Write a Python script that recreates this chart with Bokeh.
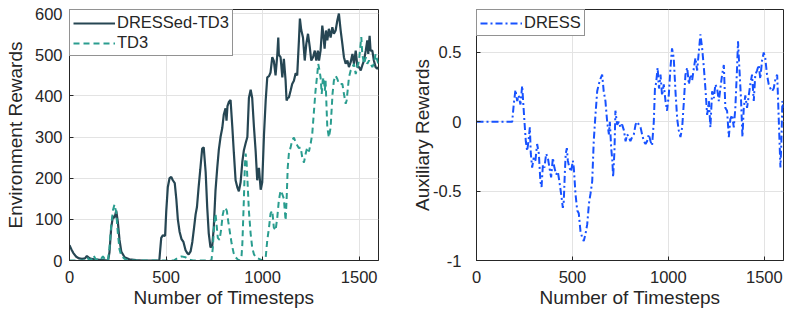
from bokeh.plotting import figure
from bokeh.layouts import row
from bokeh.models import FixedTicker, Legend, LegendItem, Range1d
from bokeh.embed import file_html
from bokeh.resources import INLINE

# ---------------- data ----------------
dressed_t = [0, 10, 20, 35, 50, 65, 80, 90, 100, 112, 130, 150, 175, 200, 207, 216, 225, 233, 242, 250,
             259, 268, 285, 310, 345, 380, 465, 475, 483, 495, 501, 509, 518, 527, 535, 545, 553, 561, 570, 580,
             590, 601, 610, 617, 627, 636, 645, 653, 660, 668, 677, 687, 695, 705, 713, 721, 730, 739, 747, 756,
             765, 773, 782, 791, 799, 808, 813, 818, 825, 834, 843, 851, 860, 869, 877, 886, 895, 903, 912, 921,
             929, 938, 946, 955, 964, 972, 977, 981, 990, 998, 1007, 1016, 1024, 1033, 1041, 1050, 1058, 1067, 1076, 1081,
             1084, 1093, 1102, 1110, 1119, 1124, 1130, 1136, 1145, 1153, 1162, 1171, 1179, 1188, 1193, 1200, 1209, 1218, 1226, 1235,
             1244, 1252, 1261, 1270, 1278, 1286, 1292, 1300, 1309, 1314, 1321, 1328, 1335, 1343, 1352, 1361, 1369, 1378, 1387, 1395,
             1404, 1413, 1421, 1430, 1439, 1447, 1456, 1465, 1473, 1482, 1491, 1499, 1508, 1516, 1525, 1534, 1542, 1547, 1554, 1559,
             1568, 1576, 1585, 1594, 1600]
dressed_r = [37, 27, 18, 9, 5, 4, 5, 11, 7, 4, 3, 2, 1, 0, 20, 80, 108, 103, 121, 95,
             50, 22, 8, 3, 1, 0, 0, 55, 61, 60, 120, 178, 200, 203, 195, 188, 150, 100, 70, 52,
             45, 25, 18, 15, 22, 45, 80, 112, 130, 175, 220, 272, 275, 215, 130, 66, 32, 35, 80, 170,
             225, 268, 300, 322, 355, 370, 340, 375, 385, 390, 325, 262, 195, 178, 168, 190, 240, 268, 285, 300,
             395, 415, 395, 325, 265, 195, 215, 225, 172, 190, 305, 390, 445, 448, 457, 494, 485, 450, 500, 542,
             500, 494, 445, 490, 437, 389, 395, 396, 413, 429, 437, 455, 450, 535, 588, 560, 542, 486, 526, 551,
             519, 486, 494, 510, 486, 510, 486, 510, 571, 551, 515, 559, 535, 563, 542, 567, 551, 559, 584, 600,
             559, 526, 494, 478, 486, 470, 482, 502, 478, 510, 470, 470, 462, 474, 486, 510, 535, 502, 546, 510,
             510, 486, 470, 466, 470]

td3_t = [0, 80, 92, 100, 115, 125, 135, 160, 173, 185, 199, 207, 216, 225, 233, 242, 250, 259, 268, 285,
         300, 330, 540, 560, 580, 600, 615, 627, 640, 735, 742, 748, 756, 761, 768, 777, 785, 793, 800, 808,
         815, 822, 830, 840, 850, 860, 872, 882, 890, 895, 903, 908, 912, 917, 921, 929, 938, 946, 955, 964,
         981, 998, 1008, 1016, 1024, 1033, 1041, 1050, 1058, 1067, 1076, 1084, 1093, 1102, 1110, 1119, 1124, 1130, 1136, 1145,
         1153, 1162, 1171, 1179, 1188, 1197, 1205, 1214, 1223, 1231, 1240, 1249, 1257, 1266, 1274, 1283, 1288, 1295, 1300, 1306,
         1311, 1317, 1322, 1326, 1331, 1335, 1343, 1352, 1357, 1362, 1369, 1378, 1387, 1395, 1404, 1413, 1421, 1430, 1435, 1442,
         1447, 1456, 1465, 1473, 1482, 1491, 1499, 1504, 1511, 1516, 1525, 1534, 1542, 1551, 1559, 1568, 1576, 1585, 1594, 1600]
td3_r = [0, 0, 8, 2, 3, 12, 3, 1, 10, 2, 0, 30, 85, 122, 136, 117, 68, 27, 12, 4,
         1, 0, 0, 6, 10, 8, 4, 1, 0, 0, 30, 80, 114, 90, 55, 50, 75, 110, 125, 128,
         120, 95, 70, 40, 18, 8, 2, 0, 5, 40, 150, 230, 260, 240, 200, 120, 65, 32, 15, 8,
         4, 0, 2, 8, 49, 80, 114, 121, 80, 73, 105, 146, 170, 161, 150, 97, 146, 226, 260, 275,
         292, 299, 287, 280, 273, 275, 251, 238, 260, 275, 265, 285, 308, 364, 413, 453, 478, 461, 445, 405,
         437, 445, 413, 437, 372, 323, 299, 323, 364, 405, 437, 449, 441, 429, 429, 429, 405, 381, 389, 421,
         445, 462, 470, 478, 453, 470, 486, 510, 543, 502, 478, 494, 478, 486, 478, 470, 478, 502, 486, 478]

dress_t = [0, 186, 194, 203, 212, 220, 229, 238, 243, 250, 257, 264, 271, 278, 283, 290, 298, 307, 316, 325,
           333, 339, 346, 354, 363, 372, 380, 389, 398, 406, 415, 424, 432, 441, 450, 455, 460, 465, 471, 476,
           484, 493, 502, 507, 516, 525, 533, 542, 550, 559, 568, 577, 586, 594, 603, 611, 620, 629, 637, 646,
           655, 663, 672, 681, 690, 695, 702, 708, 712, 719, 724, 733, 742, 750, 759, 768, 777, 785, 794, 802,
           811, 820, 829, 837, 846, 855, 863, 872, 881, 889, 898, 907, 915, 924, 930, 936, 944, 951, 959, 967,
           976, 985, 993, 1002, 1011, 1019, 1028, 1037, 1046, 1054, 1063, 1072, 1081, 1089, 1098, 1107, 1115, 1124, 1133, 1141,
           1150, 1159, 1167, 1176, 1185, 1193, 1202, 1211, 1219, 1228, 1237, 1245, 1254, 1263, 1271, 1280, 1289, 1297, 1306, 1315,
           1323, 1332, 1341, 1349, 1358, 1363, 1370, 1379, 1386, 1393, 1401, 1410, 1419, 1427, 1436, 1445, 1453, 1462, 1471, 1479,
           1488, 1497, 1505, 1514, 1523, 1532, 1540, 1549, 1558, 1567, 1572, 1578, 1584, 1589, 1594, 1600]
dress_r = [0, 0, 0.125, 0.23, 0.15, 0.19, 0.125, 0.26, 0.15, 0.0, -0.14, -0.21, -0.14, -0.04, -0.23, -0.33, -0.26, -0.28, -0.16, -0.23,
           -0.43, -0.47, -0.31, -0.33, -0.23, -0.26, -0.33, -0.40, -0.26, -0.33, -0.38, -0.36, -0.43, -0.52, -0.62, -0.57, -0.38, -0.23, -0.19, -0.28,
           -0.33, -0.36, -0.28, -0.33, -0.52, -0.64, -0.66, -0.79, -0.83, -0.86, -0.81, -0.74, -0.59, -0.52, -0.43, -0.14, 0.05, 0.22, 0.27, 0.31,
           0.34, 0.22, 0.15, 0.0, -0.09, 0.0, -0.19, -0.28, -0.40, -0.21, 0.08, -0.02, 0.0, -0.04, -0.02, -0.06, -0.14, -0.09, -0.11, -0.14,
           -0.11, -0.09, -0.02, 0.0, -0.02, -0.04, -0.09, -0.14, -0.16, -0.14, -0.09, -0.14, -0.17, 0.0, 0.24, 0.28, 0.39, 0.24, 0.34, 0.19,
           0.27, 0.15, 0.08, 0.19, 0.39, 0.53, 0.46, 0.22, 0.02, -0.06, -0.11, -0.04, 0.15, 0.34, 0.39, 0.27, 0.34, 0.30, 0.39, 0.46,
           0.37, 0.51, 0.63, 0.53, 0.39, 0.24, 0.05, 0.15, -0.04, 0.22, 0.17, 0.27, 0.24, 0.15, 0.24, 0.34, 0.41, 0.10, 0.08, -0.11,
           0.02, 0.05, -0.04, 0.10, 0.39, 0.58, 0.39, 0.15, -0.11, 0.10, 0.19, 0.10, 0.19, 0.27, 0.34, 0.15, 0.34, 0.37, 0.41, 0.31,
           0.44, 0.50, 0.46, 0.34, 0.27, 0.24, 0.22, 0.24, 0.31, 0.34, 0.15, -0.09, -0.33, -0.14, 0.15, 0.10]

x_ticks = [0, 500, 1000, 1500]
env_ticks = [0, 100, 200, 300, 400, 500, 600]
aux_ticks = [-1, -0.5, 0, 0.5]
aux_labels = {-1: "-1", -0.5: "-0.5", 0: "0", 0.5: "0.5"}

FONT = "Liberation Sans"
INK = "#262626"
GRID = "#e3e3e3"


def style(p, yticks, ystand, lstand):
    p.xaxis.ticker = FixedTicker(ticks=x_ticks)
    p.yaxis.ticker = FixedTicker(ticks=yticks)
    for ax in p.xaxis + p.yaxis:
        ax.axis_line_color = INK
        ax.major_tick_line_color = INK
        ax.major_tick_in = 4
        ax.major_tick_out = 0
        ax.minor_tick_line_color = None
        ax.major_label_text_font = FONT
        ax.major_label_text_font_size = "16.5px"
        ax.major_label_text_color = INK
        ax.axis_label_text_font = FONT
        ax.axis_label_text_font_size = "19px"
        ax.axis_label_text_font_style = "normal"
        ax.axis_label_text_color = INK
    p.xaxis.major_label_standoff = 10
    p.xaxis.axis_label_standoff = 1
    p.yaxis.major_label_standoff = ystand
    p.yaxis.axis_label_standoff = lstand
    p.xgrid.ticker = FixedTicker(ticks=x_ticks)
    p.ygrid.ticker = FixedTicker(ticks=yticks)
    p.xgrid.grid_line_color = GRID
    p.ygrid.grid_line_color = GRID
    p.outline_line_color = INK
    p.outline_line_alpha = 1


# ---------------- left panel ----------------
p1 = figure(width=400, height=310, x_range=Range1d(0, 1600), y_range=Range1d(0, 610),
            output_backend="svg", toolbar_location=None,
            min_border_left=69, min_border_right=22, min_border_top=9, min_border_bottom=50,
            x_axis_label="Number of Timesteps", y_axis_label="Environment Rewards")
style(p1, env_ticks, 7, 6)
r_dressed = p1.line(dressed_t, dressed_r, line_color="#264653", line_width=2.2)
r_td3 = p1.line(td3_t, td3_r, line_color="#2a9d8f", line_width=2, line_dash="6 4")
leg1 = Legend(items=[LegendItem(label="DRESSed-TD3", renderers=[r_dressed]),
                     LegendItem(label="TD3", renderers=[r_td3])],
              location="top_left")
p1.add_layout(leg1, "center")

# ---------------- right panel ----------------
p2 = figure(width=397, height=310, x_range=Range1d(0, 1600), y_range=Range1d(-1, 0.81),
            output_backend="svg", toolbar_location=None,
            min_border_left=76, min_border_right=14, min_border_top=8, min_border_bottom=50,
            x_axis_label="Number of Timesteps", y_axis_label="Auxiliary Rewards")
style(p2, aux_ticks, 15, -3)
p2.yaxis[0].major_label_overrides = aux_labels
r_dress = p2.line(dress_t, dress_r, line_color="#1752ff", line_width=2, line_dash="7 3 2 3")
leg2 = Legend(items=[LegendItem(label="DRESS", renderers=[r_dress])], location="top_left")
p2.add_layout(leg2, "center")

for leg in (leg1, leg2):
    leg.margin = 0
    leg.padding = 3
    leg.spacing = 1
    leg.label_standoff = 2
    leg.glyph_width = 42
    leg.glyph_height = 18
    leg.label_height = 18
    leg.label_text_font = FONT
    leg.label_text_font_size = "16.5px"
    leg.label_text_color = INK
    leg.border_line_color = INK
    leg.border_line_width = 1
    leg.background_fill_alpha = 1

out = row(p1, p2)
open("out.html", "w").write(file_html(out, INLINE))
